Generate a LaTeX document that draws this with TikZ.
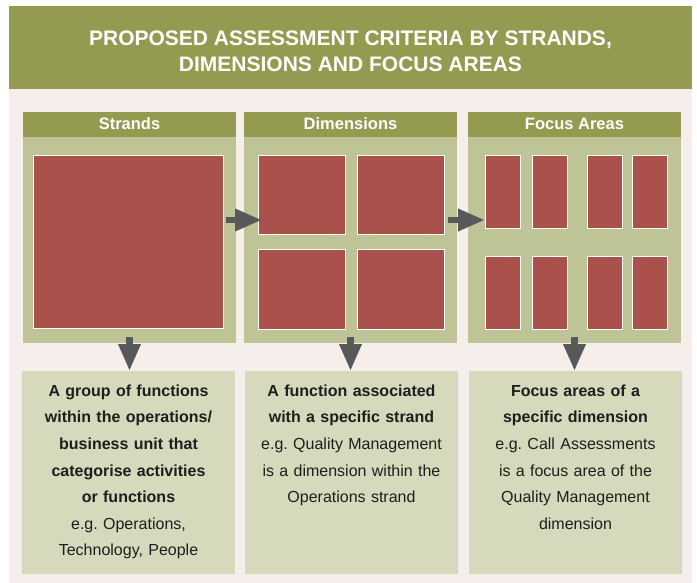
\documentclass[tikz,border=0pt]{standalone}
\usepackage{fontspec}
\setmainfont{Liberation Sans}
\usetikzlibrary{arrows.meta}

\definecolor{headgreen}{RGB}{148,155,80}
\definecolor{panelgreen}{RGB}{191,196,151}
\definecolor{descgreen}{RGB}{214,217,188}
\definecolor{cellred}{RGB}{169,81,74}
\definecolor{bgpink}{RGB}{246,238,235}
\definecolor{arrowgrey}{RGB}{88,89,91}
\definecolor{inktext}{RGB}{30,30,30}

\begin{document}
\begin{tikzpicture}[x=1pt,y=-1pt,
  plate/.style={draw=none,inner sep=0pt,outer sep=0pt,anchor=north west},
  colhead/.style={plate,fill=headgreen,minimum height=25pt,minimum width=213pt},
  panel/.style={plate,fill=panelgreen,minimum height=206pt,minimum width=213pt},
  desc/.style={plate,fill=descgreen,minimum height=203pt,minimum width=213pt},
  cell/.style={plate,fill=cellred,draw=white,line width=0.8pt},
  headtext/.style={text=white,font=\fontsize{16.5}{18}\selectfont\bfseries},
  desctext/.style={inner sep=0pt,anchor=north,text width=210pt,align=center,
    text=inktext,font=\fontsize{16}{26.6}\selectfont},
  flow/.style={draw=arrowgrey,line width=6.5pt,
    -{Triangle[length=27pt,width=21pt]}},
]
\useasboundingbox[fill=white] (0,0) rectangle (697,583);

% page background and title band
\fill[bgpink] (9,89) rectangle (692,583);
\node[plate,fill=headgreen,minimum width=683pt,minimum height=83pt] (band) at (9,6) {};
\node[inner sep=0pt,text=white,align=center,
  font=\fontsize{21}{26}\selectfont\bfseries] (title) at (350.5,51.5)
  {PROPOSED ASSESSMENT CRITERIA BY STRANDS,\\DIMENSIONS AND FOCUS AREAS};

% column headings
\node[colhead] (sh) at (23,112) {};
\node[colhead] (dh) at (244,112) {};
\node[colhead] (fh) at (468,112) {};
\node[headtext] at ([yshift=1pt]sh.center) {Strands};
\node[headtext] at ([yshift=1pt]dh.center) {Dimensions};
\node[headtext] at ([yshift=1pt]fh.center) {Focus Areas};

% panels
\node[panel] (sp) at (23,137) {};
\node[panel] (dp) at (244,137) {};
\node[panel] (fp) at (468,137) {};

% strands: one block
\node[cell,minimum width=190pt,minimum height=173pt] (s1) at (33,155) {};

% dimensions: two by two
\node[cell,minimum width=87pt,minimum height=79pt] (d1) at (258,155) {};
\node[cell,minimum width=87pt,minimum height=79pt] (d2) at (357,155) {};
\node[cell,minimum width=87pt,minimum height=80pt] (d3) at (258,249) {};
\node[cell,minimum width=87pt,minimum height=80pt] (d4) at (357,249) {};

% focus areas: two rows of four
\foreach \i/\x in {1/485,2/532,3/587,4/632}{
  \node[cell,minimum width=35pt,minimum height=73pt] (fa\i) at (\x,155) {};
  \node[cell,minimum width=35pt,minimum height=73pt] (fb\i) at (\x,256) {};
}

% description boxes
\node[desc] (sd) at (22,371) {};
\node[desc] (dd) at (245,371) {};
\node[desc] (fd) at (469,371) {};

\node[desctext] (st) at ([yshift=-13.5pt]sd.north)
  {\bfseries A group of functions\\within the operations/\\business unit that\\categorise activities\\or functions\\
   \mdseries e.g.\ Operations,\\Technology, People};
\node[desctext] (dt) at ([yshift=-13.5pt]dd.north)
  {\bfseries A function associated\\with a specific strand\\
   \mdseries e.g.\ Quality Management\\is a dimension within the\\Operations strand};
\node[desctext] (ft) at ([yshift=-13.5pt]fd.north)
  {\bfseries Focus areas of a\\specific dimension\\
   \mdseries e.g.\ Call Assessments\\is a focus area of the\\Quality Management\\dimension};

% connectors
\coordinate (r1s) at (226,220);
\coordinate (r1e) at (262,220);
\coordinate (r2s) at (448,220);
\coordinate (r2e) at (485,220);
\draw[flow] (r1s) -- (r1e);
\draw[flow] (r2s) -- (r2e);

\draw[flow] ([yshift=6pt]sp.south) -- (sp.south |- sd.north);
\draw[flow] ([yshift=6pt]dp.south) -- (dp.south |- dd.north);
\draw[flow] ([yshift=6pt]fp.south) -- (fp.south |- fd.north);
\end{tikzpicture}
\end{document}
